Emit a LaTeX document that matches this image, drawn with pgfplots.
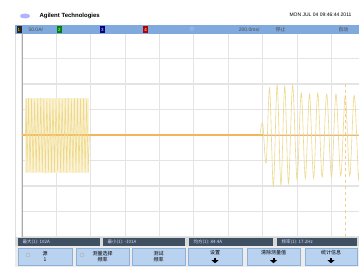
\documentclass[border=0pt]{standalone}
\usepackage{pgfplots}
\pgfplotsset{compat=1.18}
\usepackage{fontspec}
\setmainfont{Liberation Sans}
\newfontfamily\cjk{Noto Sans CJK SC}
\definecolor{sig}{HTML}{EED98A}
\definecolor{sigfill}{HTML}{FBF3D6}
\definecolor{base}{HTML}{F4B55A}
\definecolor{barblue}{HTML}{80AADD}
\definecolor{stat}{HTML}{3F5063}
\definecolor{btn}{HTML}{B8D2EF}
\definecolor{btnedge}{HTML}{8FB0D6}
\definecolor{gridc}{HTML}{E4E4E4}
\begin{document}
\begin{tikzpicture}[x=1pt,y=1pt]
\path[use as bounding box, fill=white] (0,0) rectangle (359,270);
% left screen margin line
\draw[gray!25, line width=0.6pt] (15,33) -- (15,237);
\begin{axis}[at={(22pt,33pt)}, anchor=south west, scale only axis,
  width=337pt, height=204pt, xmin=0, xmax=9.8, ymin=-4, ymax=4,
  xtick={0,...,9}, ytick={-4,...,4}, xticklabels={}, yticklabels={},
  major tick length=0pt, grid=major,
  major grid style={gridc, line width=1.1pt},
  axis line style={draw=none}, clip mode=individual]
\draw[gray!65, line width=0.9pt] (axis cs:0,-4) -- (axis cs:0,4);
% first burst band
\addplot[draw=none, fill=sigfill, forget plot] coordinates {
 (0.10,1.45) (1.96,1.45) (1.96,-1.48) (0.10,-1.48)} -- cycle;
% baseline
\addplot[base, line width=1.1pt] coordinates {(-0.2,0) (7.0,0)};
\addplot[base, line width=0.6pt] coordinates {(7.0,0) (9.8,0)};
% first burst
\addplot[sig, line width=0.6pt] coordinates {
(0.100,0) (0.122,1.42) (0.145,-1.45) (0.189,1.46) (0.234,-1.42) (0.278,1.44)
(0.323,-1.48) (0.367,1.40) (0.412,-1.46) (0.456,1.45) (0.501,-1.43)
(0.545,1.47) (0.590,-1.45) (0.634,1.42) (0.679,-1.49) (0.723,1.44)
(0.768,-1.44) (0.812,1.46) (0.857,-1.47) (0.901,1.41) (0.946,-1.45)
(0.990,1.45) (1.035,-1.42) (1.079,1.47) (1.124,-1.48) (1.168,1.43)
(1.213,-1.45) (1.257,1.44) (1.302,-1.46) (1.346,1.46) (1.391,-1.43)
(1.435,1.42) (1.480,-1.48) (1.524,1.45) (1.569,-1.45) (1.613,1.44)
(1.658,-1.47) (1.702,1.43) (1.747,-1.44) (1.791,1.46) (1.836,-1.46)
(1.880,1.42) (1.925,-1.45) (1.960,0)};
% second burst
\addplot[sig, line width=0.6pt, smooth, tension=0.55] coordinates {
(6.92,0) (7.00,0.45) (7.10,-1.10) (7.20,1.85) (7.31,-2.00) (7.42,1.96)
(7.53,-1.95) (7.64,1.90) (7.75,-1.90) (7.87,1.95) (8.00,-1.75)
(8.12,1.65) (8.24,-1.70) (8.36,1.60) (8.48,-1.70) (8.60,1.65)
(8.73,-1.65) (8.86,1.60) (9.00,-1.65) (9.13,1.60) (9.27,-1.60)
(9.40,1.55) (9.53,-1.60) (9.66,1.55) (9.78,-1.60) (9.80,-1.5)};
% cursor
\addplot[base!70, line width=0.5pt, dashed] coordinates {(9.39,-4) (9.39,2.0)};
% ground marker
\addplot[only marks, mark=triangle*, mark options={rotate=-90, fill=base, draw=base}, mark size=2pt] coordinates {(-0.17,0)};
\end{axis}
% header
\fill[blue!30] (25,254) ellipse (5 and 2.5);
\node[anchor=west, font=\bfseries\fontsize{6}{7}\selectfont] at (36,254) {Agilent Technologies};
\node[anchor=east, font=\fontsize{5}{6}\selectfont] at (355,255) {MON JUL 04 09:46:44 2011};
% top bar
\fill[barblue] (15,236) rectangle (359,245);
\fill[black!85] (16.5,237) rectangle (21.5,244);
\node[font=\fontsize{4.5}{5}\selectfont, text=yellow!80!orange] at (19,240.5) {1};
\node[anchor=west, font=\fontsize{5}{6}\selectfont, text=black!70] at (25,240.5) {50.0A/};
\fill[green!50!black] (57,237) rectangle (62,244);
\node[font=\fontsize{4.5}{5}\selectfont, text=white] at (59.5,240.5) {2};
\fill[blue!50!black] (100,237) rectangle (105,244);
\node[font=\fontsize{4.5}{5}\selectfont, text=white] at (102.5,240.5) {3};
\fill[red!70!black] (143,237) rectangle (148,244);
\node[font=\fontsize{4.5}{5}\selectfont, text=white] at (145.5,240.5) {4};
\node[font=\fontsize{5}{6}\selectfont, text=blue!20] at (192,240.5) {$\oplus$};
\node[anchor=east, font=\fontsize{5}{6}\selectfont, text=black!70] at (263,240.5) {200.0ms/};
\node[anchor=west, font=\cjk\fontsize{5}{6}\selectfont, text=black!70] at (272,240.5) {停止};
\node[anchor=east, font=\cjk\fontsize{5}{6}\selectfont, text=black!70] at (352,240.5) {自动};
% status bar
\fill[gray!30] (15,23.5) rectangle (359,32.5);
\foreach \a/\b/\t in {18/100/{最大(1): 102A}, 103/185/{最小(1): -101A}, 189/273/{均方(1): 84.4A}, 277/357/{频率(1): 17.2Hz}} {
  \fill[stat] (\a,24) rectangle (\b,32);
  \node[anchor=west, font=\cjk\fontsize{4.5}{5}\selectfont, text=white!85!blue] at (\a+1,28) {\t};
}
% buttons
\fill[gray!15] (15,3) rectangle (359,23.5);
\foreach \a/\b/\t/\u in {18/72/{源}/{1}, 76/129/{测量选择}/{频率}, 132/185/{测试}/{频率}} {
  \draw[btnedge, fill=btn, line width=0.4pt] (\a,5) rectangle (\b,22);
  \node[font=\cjk\fontsize{5}{5.5}\selectfont, align=center] at ({(\a+\b)/2},13.5) {\t\\\u};
}
\foreach \a/\b/\t in {188/242/{设置}, 247/300/{清除测量值}, 305/357/{统计信息}} {
  \draw[btnedge, fill=btn, line width=0.4pt] (\a,5) rectangle (\b,22);
  \node[font=\cjk\fontsize{5}{5.5}\selectfont] at ({(\a+\b)/2},17) {\t};
  \fill[black] ({(\a+\b)/2-1},12) rectangle ({(\a+\b)/2+1},9.5);
  \fill[black] ({(\a+\b)/2-3.5},9.8) -- ({(\a+\b)/2+3.5},9.8) -- ({(\a+\b)/2},6.8) -- cycle;
}
\draw[gray!60, line width=0.5pt] (28,15) circle (2);
\draw[gray!60, line width=0.5pt] (82,15) circle (2);
\end{tikzpicture}
\end{document}
